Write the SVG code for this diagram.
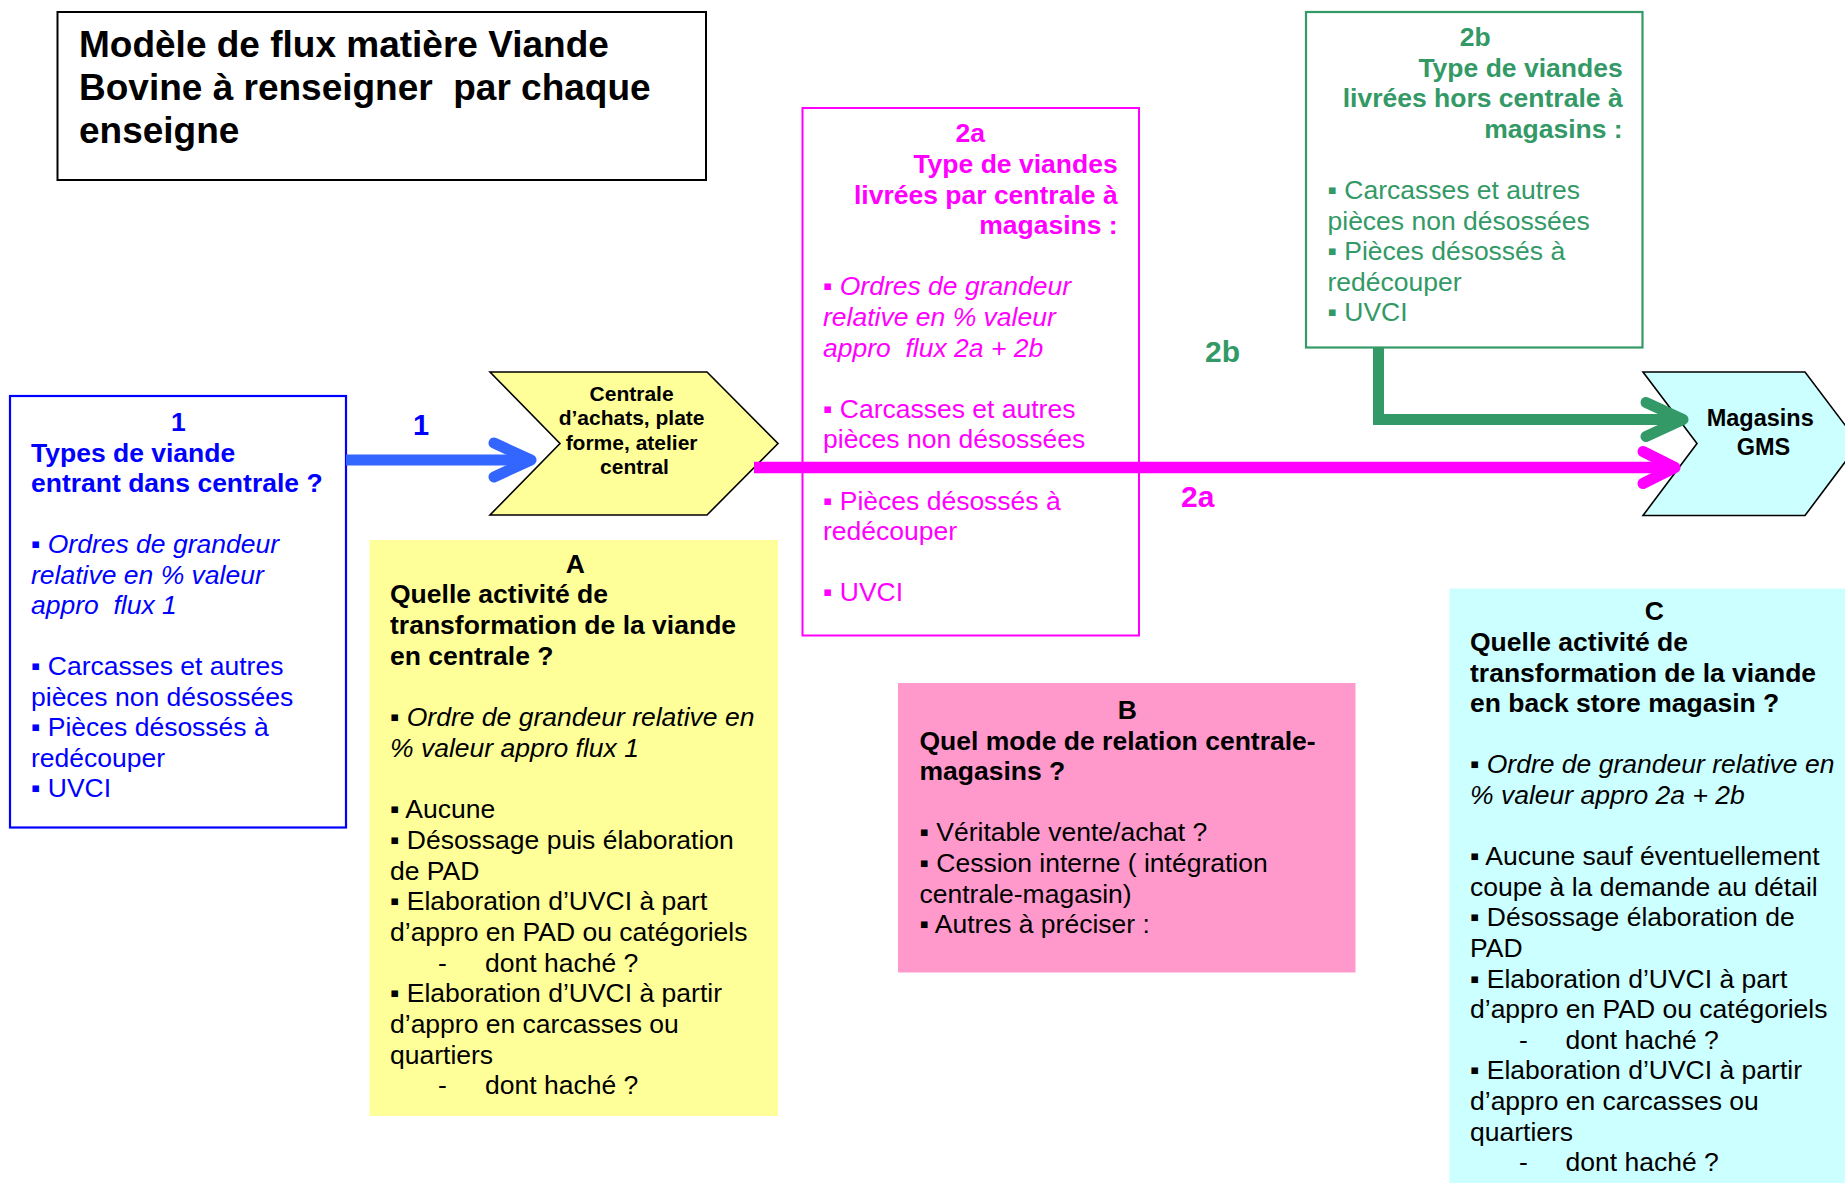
<svg xmlns="http://www.w3.org/2000/svg" width="1845" height="1183" viewBox="0 0 1845 1183">
  <style>
    text { font-family: "Liberation Sans", Arial, Helvetica, sans-serif; }
    .t { font-size: 26.5px; }
    .b { font-weight: bold; }
    .i { font-style: italic; }
    .mid { text-anchor: middle; }
    .end { text-anchor: end; }
    .blue { fill: #0000FF; }
    .pink { fill: #FF00FF; }
    .green { fill: #339966; }
    .ink { fill: #000000; }
    .chev { stroke: #000000; stroke-width: 1.6; stroke-linejoin: miter; }
    .flow { fill: none; stroke-linecap: butt; stroke-linejoin: miter; }
  </style>
  <defs>
    <marker id="ah-blue" markerUnits="userSpaceOnUse" viewBox="-50 -30 60 60" refX="0" refY="0" markerWidth="60" markerHeight="60" orient="auto" overflow="visible">
      <path d="M-37,-17 L0,0 L-37,17" fill="none" stroke="#3366FF" stroke-width="11" stroke-linecap="round" stroke-linejoin="round"/>
    </marker>
    <marker id="ah-green" markerUnits="userSpaceOnUse" viewBox="-50 -30 60 60" refX="0" refY="0" markerWidth="60" markerHeight="60" orient="auto" overflow="visible">
      <path d="M-37,-17 L0,0 L-37,17" fill="none" stroke="#339966" stroke-width="11" stroke-linecap="round" stroke-linejoin="round"/>
    </marker>
    <marker id="ah-pink" markerUnits="userSpaceOnUse" viewBox="-50 -30 60 60" refX="0" refY="0" markerWidth="60" markerHeight="60" orient="auto" overflow="visible">
      <path d="M-32,-16 L0,0 L-32,16" fill="none" stroke="#FF00FF" stroke-width="11" stroke-linecap="round" stroke-linejoin="round"/>
    </marker>
  </defs>

  <rect x="0" y="0" width="1845" height="1183" fill="#FFFFFF"/>

  <!-- Title -->
  <g id="title">
    <rect x="57.5" y="12" width="648.5" height="168" fill="#FFFFFF" stroke="#000000" stroke-width="2"/>
    <text class="b ink" font-size="37">
      <tspan x="79" y="57">Modèle de flux matière Viande</tspan>
      <tspan x="79" y="100">Bovine à renseigner&#160; par chaque</tspan>
      <tspan x="79" y="143">enseigne</tspan>
    </text>
  </g>

  <!-- Flow 1: incoming meat -->
  <g id="node-flux1">
    <rect x="10" y="396" width="336" height="431.5" fill="#FFFFFF" stroke="#0000FF" stroke-width="2.2"/>
    <text class="t blue">
      <tspan class="b" x="182" y="431" text-anchor="middle">1</tspan>
      <tspan class="b" x="31" y="461.7">Types de viande</tspan>
      <tspan class="b" x="31" y="492.2">entrant dans centrale ?</tspan>
      <tspan class="i" x="31" y="553.2">▪ Ordres de grandeur</tspan>
      <tspan class="i" x="31" y="583.7">relative en % valeur</tspan>
      <tspan class="i" x="31" y="614.2">appro&#160; flux 1</tspan>
      <tspan x="31" y="675.2">▪ Carcasses et autres</tspan>
      <tspan x="31" y="705.7">pièces non désossées</tspan>
      <tspan x="31" y="736.2">▪ Pièces désossés à</tspan>
      <tspan x="31" y="766.7">redécouper</tspan>
      <tspan x="31" y="797.2">▪ UVCI</tspan>
    </text>
  </g>

  <!-- Central purchasing platform -->
  <g id="node-centrale">
    <polygon class="chev" points="490,372 707,372 778,443.5 707,515 490,515 560,443.5" fill="#FFFF99"/>
    <text class="b ink mid" font-size="21">
      <tspan x="634.5" y="401">Centrale</tspan>
      <tspan x="634.5" y="425">d’achats, plate</tspan>
      <tspan x="634.5" y="449.5">forme, atelier</tspan>
      <tspan x="634.5" y="474">central</tspan>
    </text>
  </g>

  <!-- Flow 2a: delivered through the central -->
  <g id="node-flux2a">
    <rect x="802.5" y="108" width="336.5" height="527.5" fill="#FFFFFF" stroke="#FF00FF" stroke-width="2"/>
    <text class="t pink">
      <tspan class="b" x="974" y="142.4" text-anchor="middle">2a</tspan>
      <tspan class="b" x="1125" y="173" text-anchor="end">Type de viandes</tspan>
      <tspan class="b" x="1125" y="203.6" text-anchor="end">livrées par centrale à</tspan>
      <tspan class="b" x="1125" y="234.2" text-anchor="end">magasins :</tspan>
      <tspan class="i" x="823" y="295.4">▪ Ordres de grandeur</tspan>
      <tspan class="i" x="823" y="326">relative en % valeur</tspan>
      <tspan class="i" x="823" y="356.6">appro&#160; flux 2a + 2b</tspan>
      <tspan x="823" y="417.8">▪ Carcasses et autres</tspan>
      <tspan x="823" y="448.4">pièces non désossées</tspan>
      <tspan x="823" y="509.6">▪ Pièces désossés à</tspan>
      <tspan x="823" y="540.2">redécouper</tspan>
      <tspan x="823" y="600.8">▪ UVCI</tspan>
    </text>
  </g>

  <!-- Flow 2b: delivered outside the central -->
  <g id="node-flux2b">
    <rect x="1306" y="12" width="336.5" height="335.5" fill="#FFFFFF" stroke="#339966" stroke-width="2.2"/>
    <text class="t green">
      <tspan class="b" x="1479" y="46" text-anchor="middle">2b</tspan>
      <tspan class="b" x="1630" y="76.6" text-anchor="end">Type de viandes</tspan>
      <tspan class="b" x="1630" y="107.2" text-anchor="end">livrées hors centrale à</tspan>
      <tspan class="b" x="1630" y="137.8" text-anchor="end">magasins :</tspan>
      <tspan x="1327.5" y="199">▪ Carcasses et autres</tspan>
      <tspan x="1327.5" y="229.6">pièces non désossées</tspan>
      <tspan x="1327.5" y="260.2">▪ Pièces désossés à</tspan>
      <tspan x="1327.5" y="290.8">redécouper</tspan>
      <tspan x="1327.5" y="321.4">▪ UVCI</tspan>
    </text>
  </g>

  <!-- Stores -->
  <g id="node-magasins">
    <polygon class="chev" points="1643,372 1805,372 1859,443.5 1805,515.5 1643,515.5 1697,443.5" fill="#CCFFFF"/>
    <text class="b ink mid" font-size="23.5">
      <tspan x="1763.5" y="426">Magasins</tspan>
      <tspan x="1763.5" y="454.5">GMS</tspan>
    </text>
  </g>

  <!-- A: processing at the central -->
  <g id="node-A">
    <rect x="369.5" y="540" width="408.5" height="576" fill="#FFFF99"/>
    <text class="t ink">
      <tspan class="b" x="579" y="572.5" text-anchor="middle">A</tspan>
      <tspan class="b" x="390" y="603.2">Quelle activité de</tspan>
      <tspan class="b" x="390" y="633.9">transformation de la viande</tspan>
      <tspan class="b" x="390" y="664.6">en centrale ?</tspan>
      <tspan class="i" x="390" y="726">▪ Ordre de grandeur relative en</tspan>
      <tspan class="i" x="390" y="756.7">% valeur appro flux 1</tspan>
      <tspan x="390" y="818.1">▪ Aucune</tspan>
      <tspan x="390" y="848.8">▪ Désossage puis élaboration</tspan>
      <tspan x="390" y="879.5">de PAD</tspan>
      <tspan x="390" y="910.2">▪ Elaboration d’UVCI à part</tspan>
      <tspan x="390" y="940.9">d’appro en PAD ou catégoriels</tspan>
      <tspan x="438" y="971.6">-</tspan>
      <tspan x="485" y="971.6">dont haché ?</tspan>
      <tspan x="390" y="1002.3">▪ Elaboration d’UVCI à partir</tspan>
      <tspan x="390" y="1033">d’appro en carcasses ou</tspan>
      <tspan x="390" y="1063.7">quartiers</tspan>
      <tspan x="438" y="1094.4">-</tspan>
      <tspan x="485" y="1094.4">dont haché ?</tspan>
    </text>
  </g>

  <!-- B: central / store relationship -->
  <g id="node-B">
    <rect x="898" y="683" width="457.5" height="289.5" fill="#FF99CC"/>
    <text class="t ink">
      <tspan class="b" x="1131" y="719" text-anchor="middle">B</tspan>
      <tspan class="b" x="919.5" y="749.6">Quel mode de relation centrale-</tspan>
      <tspan class="b" x="919.5" y="780.2">magasins ?</tspan>
      <tspan x="919.5" y="841.4">▪ Véritable vente/achat ?</tspan>
      <tspan x="919.5" y="872">▪ Cession interne ( intégration</tspan>
      <tspan x="919.5" y="902.6">centrale-magasin)</tspan>
      <tspan x="919.5" y="933.2">▪ Autres à préciser :</tspan>
    </text>
  </g>

  <!-- C: processing in the store back room -->
  <g id="node-C">
    <rect x="1449.5" y="588.5" width="395.5" height="594.5" fill="#CCFFFF"/>
    <text class="t ink">
      <tspan class="b" x="1658" y="620.4" text-anchor="middle">C</tspan>
      <tspan class="b" x="1470" y="651">Quelle activité de</tspan>
      <tspan class="b" x="1470" y="681.6">transformation de la viande</tspan>
      <tspan class="b" x="1470" y="712.2">en back store magasin ?</tspan>
      <tspan class="i" x="1470" y="773.4">▪ Ordre de grandeur relative en</tspan>
      <tspan class="i" x="1470" y="804">% valeur appro 2a + 2b</tspan>
      <tspan x="1470" y="865.2">▪ Aucune sauf éventuellement</tspan>
      <tspan x="1470" y="895.8">coupe à la demande au détail</tspan>
      <tspan x="1470" y="926.4">▪ Désossage élaboration de</tspan>
      <tspan x="1470" y="957">PAD</tspan>
      <tspan x="1470" y="987.6">▪ Elaboration d’UVCI à part</tspan>
      <tspan x="1470" y="1018.2">d’appro en PAD ou catégoriels</tspan>
      <tspan x="1519" y="1048.8">-</tspan>
      <tspan x="1565.5" y="1048.8">dont haché ?</tspan>
      <tspan x="1470" y="1079.4">▪ Elaboration d’UVCI à partir</tspan>
      <tspan x="1470" y="1110">d’appro en carcasses ou</tspan>
      <tspan x="1470" y="1140.6">quartiers</tspan>
      <tspan x="1519" y="1171.2">-</tspan>
      <tspan x="1565.5" y="1171.2">dont haché ?</tspan>
    </text>
  </g>

  <!-- Connectors -->
  <g id="connectors">
    <line class="flow" x1="346" y1="460" x2="531" y2="460" stroke="#3366FF" stroke-width="11" marker-end="url(#ah-blue)"/>
    <line class="flow" x1="754" y1="467.5" x2="1675" y2="467.5" stroke="#FF00FF" stroke-width="11.5" marker-end="url(#ah-pink)"/>
    <path class="flow" d="M1378.5,347 V419.5 H1683" stroke="#339966" stroke-width="11" marker-end="url(#ah-green)"/>
    <text class="b blue mid" font-size="29" x="421" y="435">1</text>
    <text class="b green" font-size="30" x="1205" y="362">2b</text>
    <text class="b pink" font-size="30" x="1181" y="507">2a</text>
  </g>
</svg>
